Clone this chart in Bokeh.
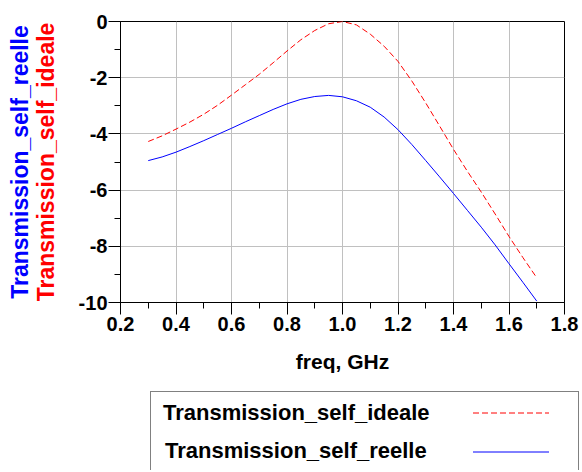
from bokeh.plotting import figure
from bokeh.layouts import column
from bokeh.models import (Range1d, SingleIntervalTicker, PrintfTickFormatter, Title,
                          ColumnDataSource, Div)
from bokeh.embed import file_html
from bokeh.resources import INLINE

# ---------------- data ----------------
freq = [0.30, 0.35, 0.40, 0.45, 0.50, 0.55, 0.60, 0.65, 0.70, 0.75, 0.80, 0.85,
        0.90, 0.95, 1.00, 1.05, 1.10, 1.15, 1.20, 1.25, 1.30, 1.35, 1.40, 1.45,
        1.50, 1.55, 1.60, 1.65, 1.70]
ideale = [-4.27, -4.07, -3.83, -3.58, -3.30, -2.98, -2.62, -2.25, -1.88, -1.47,
          -1.05, -0.65, -0.32, -0.08, 0.00, -0.12, -0.45, -0.88, -1.42, -2.12,
          -2.90, -3.72, -4.55, -5.33, -6.07, -6.85, -7.65, -8.40, -9.12]
reelle = [-4.95, -4.82, -4.65, -4.45, -4.24, -4.02, -3.80, -3.57, -3.35, -3.13,
          -2.93, -2.77, -2.67, -2.63, -2.68, -2.82, -3.05, -3.40, -3.85, -4.38,
          -4.95, -5.53, -6.12, -6.72, -7.32, -7.95, -8.62, -9.28, -9.95]
series_names = ["Transmission_self_ideale", "Transmission_self_reelle"]
x_label = "freq, GHz"

FONT = "Liberation Sans"
RED = "#ff0000"
BLUE = "#0000ff"

p = figure(width=580, height=391, x_range=Range1d(0.2, 1.8), y_range=Range1d(-10, 0),
           output_backend="svg", toolbar_location=None,
           min_border_left=120, min_border_right=16, min_border_top=21, min_border_bottom=89)
p.background_fill_color = "white"
p.border_fill_color = "white"
p.outline_line_color = "black"
p.outline_line_width = 1

xt = SingleIntervalTicker(interval=0.2, num_minor_ticks=2)
yt = SingleIntervalTicker(interval=2, num_minor_ticks=2)
p.xaxis.ticker = xt
p.yaxis.ticker = yt
p.xgrid.ticker = xt
p.ygrid.ticker = yt
p.xaxis.formatter = PrintfTickFormatter(format="%.1f")
p.yaxis.formatter = PrintfTickFormatter(format="%d")

for ax in (p.xaxis, p.yaxis):
    ax.axis_line_color = "black"
    ax.major_tick_line_color = "black"
    ax.minor_tick_line_color = "black"
    ax.major_tick_in = 0
    ax.minor_tick_in = 0
    ax.major_tick_out = 12
    ax.minor_tick_out = 6
    ax.major_label_text_font = FONT
    ax.major_label_text_font_style = "bold"
    ax.major_label_text_font_size = "20px"
    ax.major_label_text_color = "black"
p.xaxis.major_label_standoff = 2
p.yaxis.major_label_standoff = 1

p.xaxis.axis_label = x_label
p.xaxis.axis_label_text_font = FONT
p.xaxis.axis_label_text_font_style = "bold"
p.xaxis.axis_label_text_font_size = "21px"
p.xaxis.axis_label_text_color = "black"
p.xaxis.axis_label_standoff = 16

# red y title = axis label, blue y title = extra Title outside it
p.yaxis.axis_label = series_names[0]
p.yaxis.axis_label_text_font = FONT
p.yaxis.axis_label_text_font_style = "bold"
p.yaxis.axis_label_text_font_size = "23px"
p.yaxis.axis_label_text_color = RED
p.yaxis.axis_label_standoff = 17
p.add_layout(Title(text=series_names[1], align="center", text_font=FONT,
                   text_font_style="bold", text_font_size="23px", text_color=BLUE,
                   standoff=-6), "left")

for g in (p.xgrid, p.ygrid):
    g.grid_line_color = "#c0c0c0"
    g.grid_line_width = 1

src = ColumnDataSource(dict(freq=freq, ideale=ideale, reelle=reelle))
p.line("freq", "reelle", source=src, line_color=BLUE, line_width=1)
p.line("freq", "ideale", source=src, line_color=RED, line_width=1, line_dash="6 3")

# ---------------- legend box (HTML below the plot) ----------------
def row(name, color, dash, top, line_y):
    dash_attr = f' stroke-dasharray="{dash}"' if dash else ""
    return (
        f'<div style="position:absolute;left:{163 if dash else 165}px;top:{top}px;'
        f'line-height:26px;white-space:nowrap;">{name}</div>'
        f'<svg style="position:absolute;left:473px;top:{line_y - 2}px;" width="78" height="4">'
        f'<line x1="0" y1="2" x2="76" y2="2" stroke="{color}" stroke-width="1"{dash_attr}/></svg>'
    )

html = (
    '<div style="position:relative;width:580px;height:79px;overflow:hidden;'
    f"font-family:'{FONT}';font-weight:bold;font-size:22px;color:black;\">"
    '<div style="position:absolute;left:150px;top:0px;width:429px;height:120px;'
    'border:1px solid #808080;box-sizing:border-box;"></div>'
    + row(series_names[0], RED, "6 3", 9, 22)
    + row(series_names[1], BLUE, "", 47, 61)
    + '</div>'
)
legend_div = Div(text=html, width=580, height=79, margin=(0, 0, 0, 0))

layout = column(p, legend_div, spacing=0)
open("out.html", "w").write(file_html(layout, INLINE))
